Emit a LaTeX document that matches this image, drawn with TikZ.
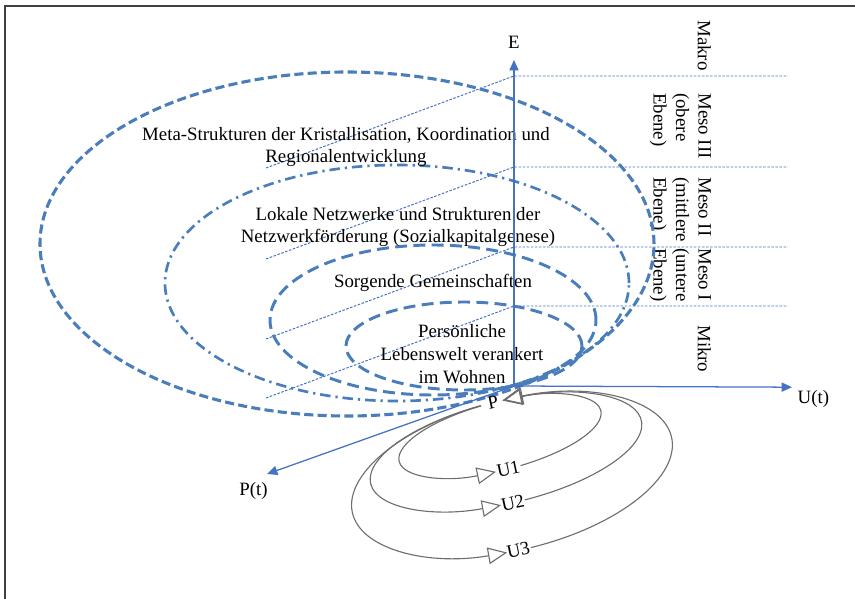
\documentclass[tikz,border=0pt]{standalone}
\usepackage{fontspec}
\setmainfont{Liberation Serif}
\usetikzlibrary{positioning,arrows.meta}
\definecolor{ebblau}{HTML}{4A7EBB}
\definecolor{ebachse}{HTML}{4472C4}
\definecolor{ebgrau}{HTML}{6E6E6E}
\definecolor{ebrahmen}{HTML}{404040}
\tikzset{
  ebachse/.style={-{Triangle[length=2.6mm, width=2.3mm]}, draw=ebachse, line width=0.9pt},
  ebebene/.style={draw=ebachse, line width=0.7pt, dash pattern=on 1.8pt off 1.1pt},
  ebstrich/.style={draw=ebblau, line width=2.2pt, dash pattern=on 6.5pt off 3pt},
  ebstrichpunkt/.style={draw=ebblau, line width=1.9pt, dash pattern=on 7.5pt off 3.5pt on 1.6pt off 3.5pt},
  eblang/.style={draw=ebblau, line width=2.1pt, dash pattern=on 8.5pt off 4.5pt},
  ebschleife/.style={-{Triangle[open, length=4.8mm, width=4.2mm]}, draw=ebgrau, line width=0.8pt},
  ebtext/.style={font=\fontsize{13.4}{16.3}\selectfont, align=center, inner sep=1pt},
  ebmarke/.style={font=\fontsize{13.4}{16.3}\selectfont, inner sep=0pt, rotate=12},
  ebstufe/.style={font=\fontsize{13.4}{16}\selectfont, align=left, rotate=-90, anchor=north west, inner sep=0pt},
}

\begin{document}
\begin{tikzpicture}
  \useasboundingbox (-12.85,-5.325) rectangle (8.525,9.65);
  % ---------------- Rahmen ----------------
  \draw[ebrahmen, line width=1pt] (-12.725,-5.4) -- (-12.725,9.5) -- (8.6,9.5);
  % ---------------- Ebenen ----------------
  \foreach \y in {7.75,5.475,3.475,2.0} {\draw[ebebene] (-6.2,{\y-2.3}) -- (0,\y) -- (6.85,\y);}
  \node[ebstufe] (makro) at (4.93,9.15) {Makro};
  \node[ebstufe] (meso3) at (4.93,7.325) {Meso III\\(obere\\Ebene)};
  \node[ebstufe] (meso2) at (4.93,5.225) {Meso II\\(mittlere\\Ebene)};
  \node[ebstufe] (meso1) at (4.93,3.45) {Meso I\\(untere\\Ebene)};
  \node[ebstufe] (mikro) at (4.93,1.525) {Mikro};
  % ---------------- Ringe ----------------
  \draw[ebstrich] (-4.175,3.55) ellipse [x radius=7.675, y radius=4.3];
  \draw[ebstrichpunkt] (-2.925,2.575) ellipse [x radius=5.8, y radius=2.95];
  \draw[eblang] (-2.025,1.65) ellipse [x radius=4.075, y radius=1.875];
  \draw[eblang] (-1.25,1.0) ellipse [x radius=2.95, y radius=1.1];
  \node[ebtext] (meta) at (-4.2,5.975) {Meta-Strukturen der Kristallisation, Koordination und\\ Regionalentwicklung};
  \node[ebtext] (lokal) at (-2.9,3.975) {Lokale Netzwerke und Strukturen der\\ Netzwerkförderung (Sozialkapitalgenese)};
  \node[ebtext] (sorge) at (-2.025,2.575) {Sorgende Gemeinschaften};
  \node[ebtext] (person) at (-1.3,0.8) {Persönliche\\ Lebenswelt verankert\\ im Wohnen};
  % ---------------- Achsen ----------------
  \coordinate (o) at (0,0);
  \coordinate (etip) at (0,8.15);
  \coordinate (utip) at (6.95,-0.03);
  \coordinate (ptip) at (-6.175,-2.2);
  \node[ebtext, above=2.5mm of etip] (e) {E};
  \node[ebtext, below right=0.4mm and 1mm of utip] (u) {U(t)};
  \node[ebtext, below left=1.8mm and -0.6mm of ptip] (pt) {P(t)};
  \draw[ebachse] (o) -- (etip);
  \draw[ebachse] (o) -- (utip);
  \draw[ebachse] (o) -- (ptip);
  % ---------------- Schleifen U1 bis U3 ----------------
  \node[ebmarke] (p) at (-0.525,-0.4) {P};
  \begin{scope}[shift={(-0.35,-1.25)}, rotate=14.2]
    \node[ebmarke] (u1) at (270:2.6cm and 0.85cm) {U1};
    \draw[ebschleife] (96:2.6cm and 0.85cm) arc[start angle=96, end angle=263, x radius=2.6cm, y radius=0.85cm];
    \draw[ebschleife] (277:2.6cm and 0.85cm) arc[start angle=277, end angle=444, x radius=2.6cm, y radius=0.85cm];
  \end{scope}
  \begin{scope}[shift={(-0.2,-1.65)}, rotate=13.2]
    \node[ebmarke] (u2) at (268:3.475cm and 1.275cm) {U2};
    \draw[ebschleife] (96:3.475cm and 1.275cm) arc[start angle=96, end angle=263, x radius=3.475cm, y radius=1.275cm];
    \draw[ebschleife] (273:3.475cm and 1.275cm) arc[start angle=273, end angle=446, x radius=3.475cm, y radius=1.275cm];
  \end{scope}
  \begin{scope}[shift={(-0.05,-2.225)}, rotate=13.5]
    \node[ebmarke] (u3) at (266:4.1cm and 1.875cm) {U3};
    \draw[ebschleife] (95:4.1cm and 1.875cm) arc[start angle=95, end angle=262, x radius=4.1cm, y radius=1.875cm];
    \draw[ebschleife] (270.5:4.1cm and 1.875cm) arc[start angle=270.5, end angle=447, x radius=4.1cm, y radius=1.875cm];
  \end{scope}
\end{tikzpicture}
\end{document}
